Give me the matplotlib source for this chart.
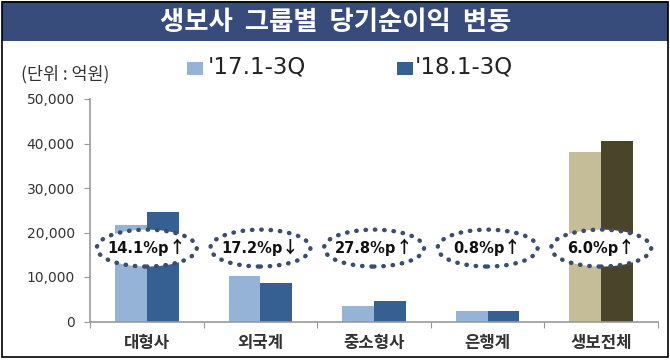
import matplotlib
matplotlib.use("Agg")
import matplotlib.pyplot as plt
from matplotlib.patches import Ellipse, Rectangle
from matplotlib.transforms import offset_copy
import numpy as np

plt.rcParams['font.family'] = ['Noto Sans CJK KR', 'DejaVu Sans']

categories = ['대형사', '외국계', '중소형사', '은행계', '생보전체']
v17 = [21700, 10300, 3500, 2450, 38000]
v18 = [24700, 8650, 4700, 2450, 40500]
change_vals = ['14.1%p', '17.2%p', '27.8%p', '0.8%p', '6.0%p']
change_dirs = ['↑', '↓', '↑', '↑', '↑']
yticks = [0, 10000, 20000, 30000, 40000, 50000]
ytick_labels = ['0', '10,000', '20,000', '30,000', '40,000', '50,000']
series_names = ["'17.1-3Q", "'18.1-3Q"]
title = '생보사  그룹별  당기순이익  변동'
unit = '(단위 : 억원)'

light = '#95b3d7'
dark = '#376092'
light_tot = '#c4bd97'
dark_tot = '#4a452a'

fig = plt.figure(figsize=(6.7, 3.6), dpi=100)
fig.patch.set_facecolor('white')

# title banner
fig.patches.append(Rectangle((0.003, 1 - 41/360), 0.994, 40/360, transform=fig.transFigure,
                             facecolor='#374c7b', edgecolor='none', zorder=0))
fig.text(336/670, 1 - 22/360, title, color='white', fontsize=19, fontweight='bold',
         ha='center', va='center')
# outer frame
fig.patches.append(Rectangle((0.003, 0.008), 0.994, 0.986, transform=fig.transFigure,
                             facecolor='none', edgecolor='black', linewidth=1.2, zorder=5))

ax = fig.add_axes([90/670, 1 - 321.5/360, (658-90)/670, (321.5-99)/360])
x = np.arange(len(categories))
w = 0.28
c17 = [light]*4 + [light_tot]
c18 = [dark]*4 + [dark_tot]
ax.bar(x - w/2, v17, w, color=c17, zorder=2)
ax.bar(x + w/2, v18, w, color=c18, zorder=2)

ax.set_xlim(-0.5, len(categories) - 0.5)
ax.set_ylim(0, 50000)
ax.set_yticks(yticks)
ax.set_yticklabels(ytick_labels, fontsize=10, color='#333333', family='DejaVu Sans')
ax.set_xticks(np.arange(len(categories) + 1) - 0.5)
ax.set_xticklabels([])
ax.set_xticks(x, minor=True)
ax.set_xticklabels(categories, minor=True, fontsize=12, fontweight='bold', color='#333333')
ax.tick_params(axis='x', which='minor', length=0, pad=9)
ax.tick_params(axis='x', which='major', length=4, color='#999999', direction='out')
ax.tick_params(axis='y', length=4, color='#999999', pad=7)
for s in ['top', 'right']:
    ax.spines[s].set_visible(False)
for s in ['left', 'bottom']:
    ax.spines[s].set_color('#999999')
    ax.spines[s].set_linewidth(1.2)

ey = 16500
num_texts = []
arr_texts = []
for i in range(len(categories)):
    e = Ellipse((x[i], ey), 0.88, 8300, facecolor='white', edgecolor='#3e4d6c',
                linewidth=3.2, linestyle=(0, (0.1, 2.0)), zorder=4)
    e.set_capstyle('round')
    ax.add_patch(e)
    t1 = ax.text(x[i], ey, change_vals[i], ha='right', va='center', fontsize=10.5,
                 fontweight='bold', color='#111111', zorder=5, family=['DejaVu Sans'])
    t2 = ax.text(x[i], ey, change_dirs[i], ha='left', va='center', fontsize=12,
                 fontweight='bold', color='#111111', zorder=5,
                 family=['Noto Sans CJK KR', 'DejaVu Sans'])
    num_texts.append(t1)
    arr_texts.append(t2)

fig.canvas.draw()
r = fig.canvas.get_renderer()
for t1, t2 in zip(num_texts, arr_texts):
    w1 = t1.get_window_extent(r).width
    w2 = t2.get_window_extent(r).width
    shift = (w1 - w2) / 2.0  # pixels
    t1.set_transform(offset_copy(ax.transData, fig=fig, x=shift, y=0, units='dots'))
    t2.set_transform(offset_copy(ax.transData, fig=fig, x=shift - 1, y=0, units='dots'))

fig.text(21/670, 1 - 74/360, unit, fontsize=12.5, color='#333333', ha='left', va='center')

# legend
fig.patches.append(Rectangle((187/670, 1 - 75/360), 16/670, 13/360, transform=fig.transFigure,
                             facecolor=light, edgecolor='none'))
fig.text(208/670, 1 - 67/360, series_names[0], fontsize=16.5, color='#222222', ha='left',
         va='center', family='DejaVu Sans')
fig.patches.append(Rectangle((397/670, 1 - 75/360), 16/670, 13/360, transform=fig.transFigure,
                             facecolor=dark, edgecolor='none'))
fig.text(415/670, 1 - 67/360, series_names[1], fontsize=16.5, color='#222222', ha='left',
         va='center', family='DejaVu Sans')

fig.savefig('out.png', dpi=100)
